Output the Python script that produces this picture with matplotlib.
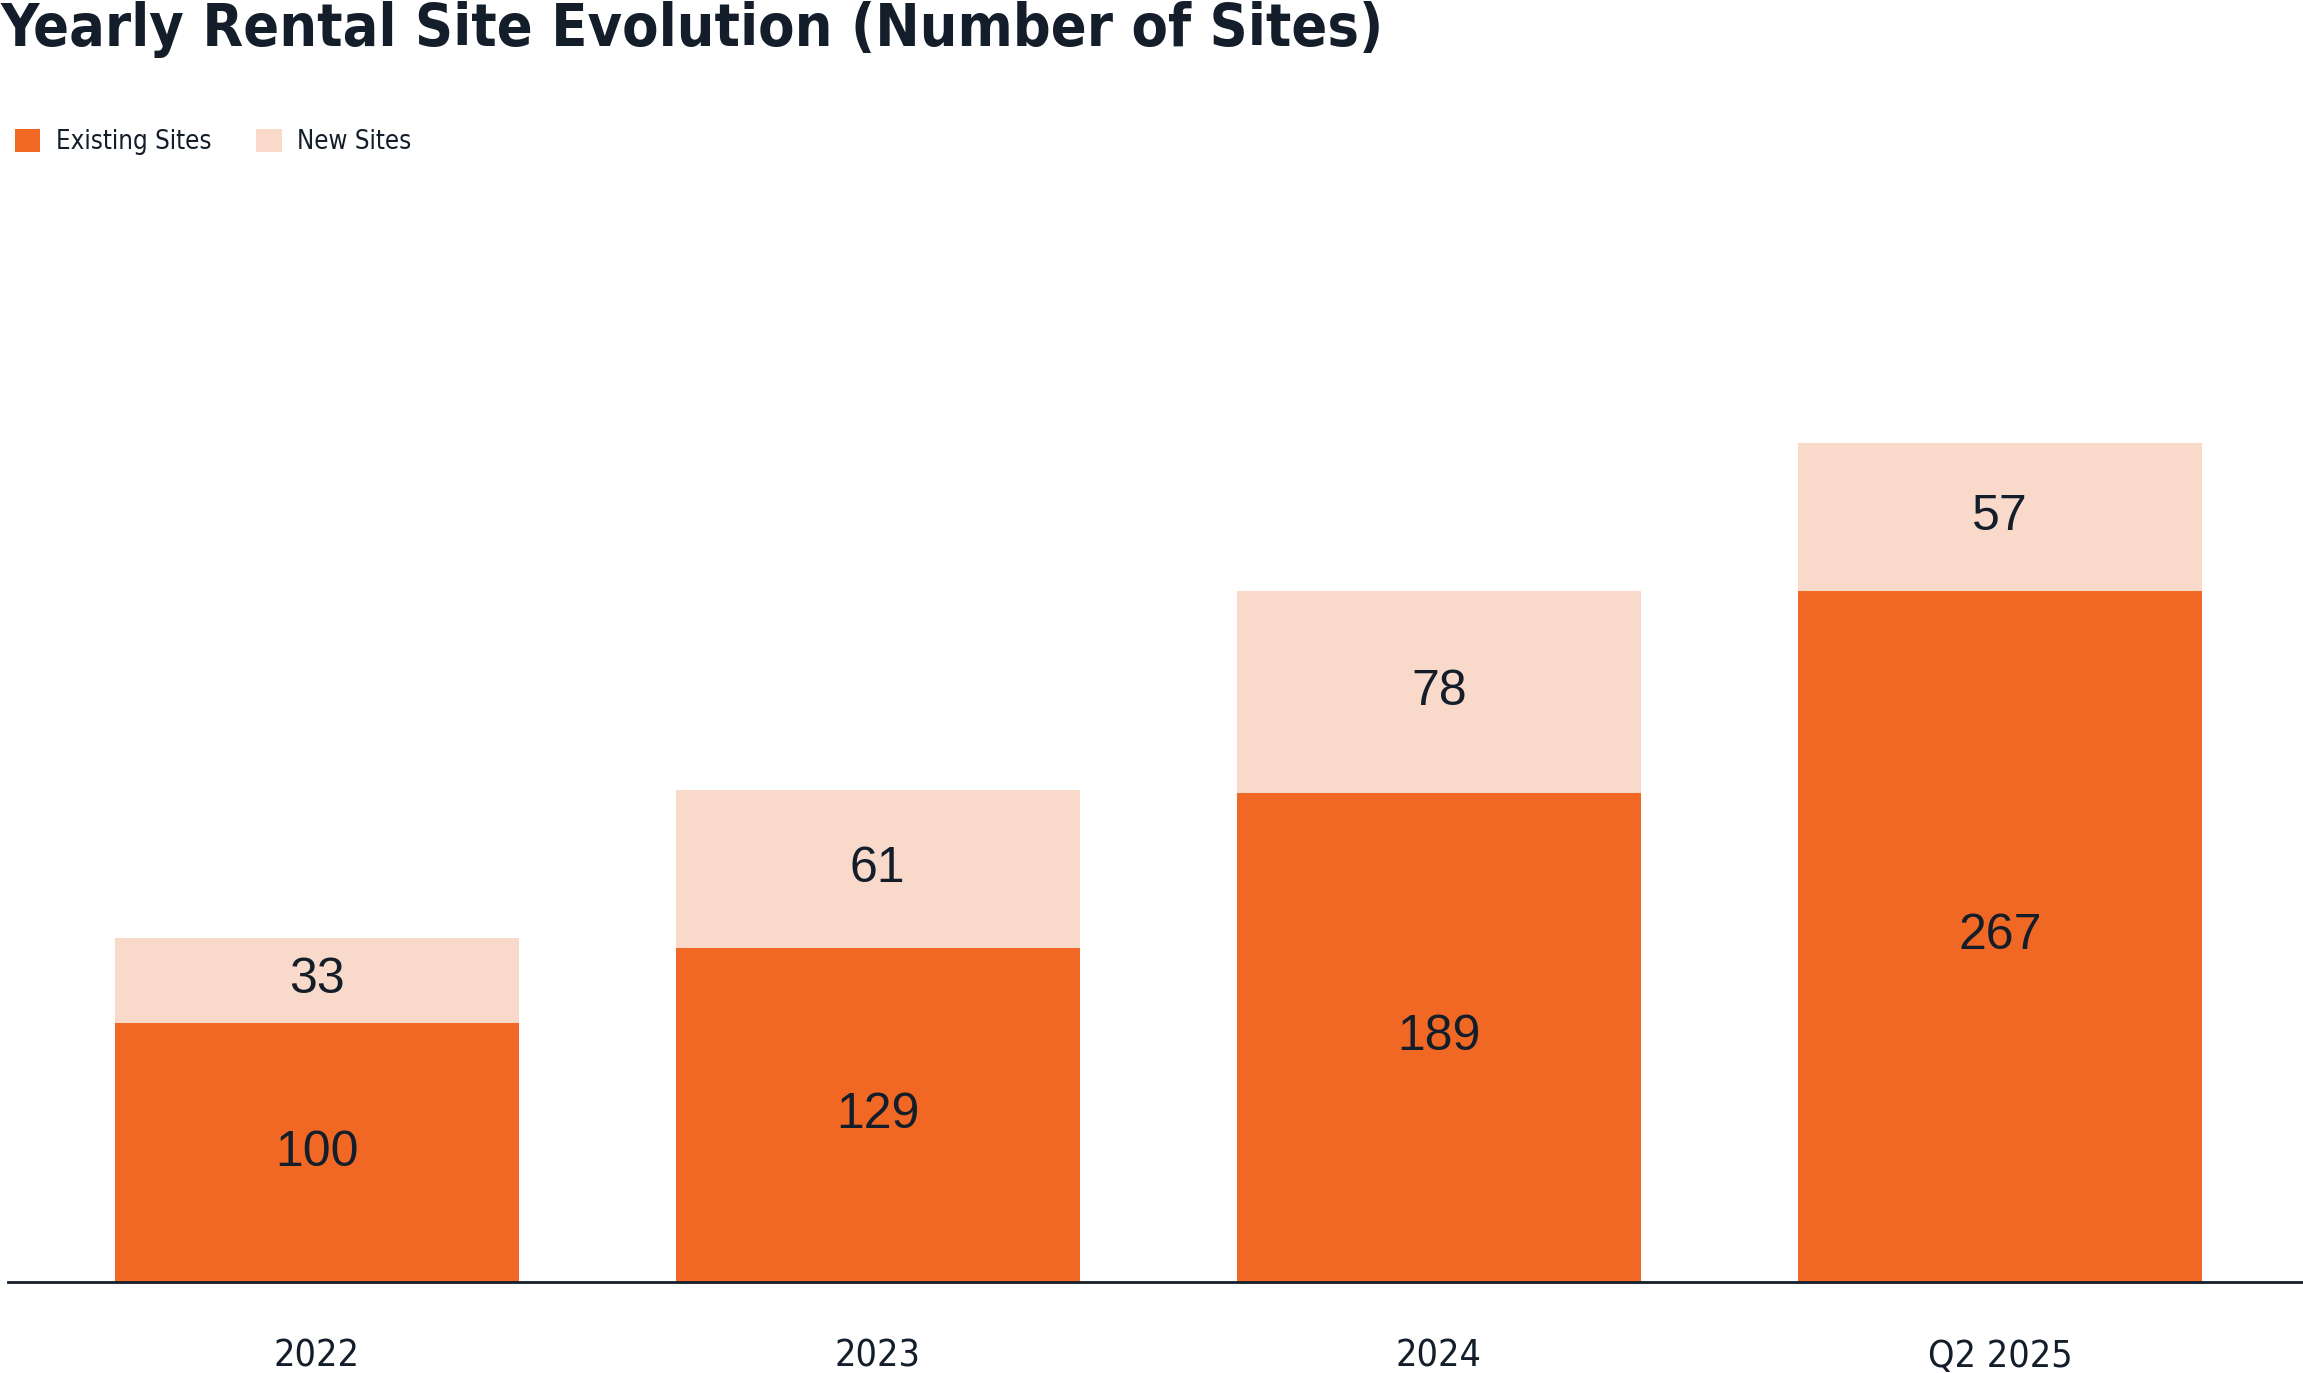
import matplotlib.pyplot as plt
import numpy as np

DPI = 100

categories = ['2022', '2023', '2024', 'Q2 2025']
existing = [100, 129, 189, 267]
new_sites = [33, 61, 78, 57]

ORANGE = '#F06824'
PEACH = '#F9D9CA'
INK = '#141E2A'
NARROW = ['DejaVu Sans', 'Liberation Sans']

fig = plt.figure(figsize=(2303/DPI, 1373/DPI), dpi=DPI)
ax = fig.add_axes([0.0035, 0.0663, 0.9965, 0.788])

x = np.arange(len(categories))
b1 = ax.bar(x, existing, width=0.72, color=ORANGE, label='Existing Sites')
b2 = ax.bar(x, new_sites, width=0.72, bottom=existing, color=PEACH, label='New Sites')

# value labels centred in each segment
for i in range(len(categories)):
    ax.text(x[i], existing[i] / 2, str(existing[i]), ha='center', va='center',
            fontsize=36, color=INK, family=['Liberation Sans', 'DejaVu Sans'])
    ax.text(x[i], existing[i] + new_sites[i] / 2, str(new_sites[i]), ha='center', va='center',
            fontsize=36, color=INK, family=['Liberation Sans', 'DejaVu Sans'])

ax.set_xlim(-0.55, 3.54)
ax.set_ylim(0, 418)
ax.set_yticks([])
ax.set_xticks(x)
ax.set_xticklabels(categories, fontsize=27, color=INK, family=NARROW, fontstretch='condensed')
ax.tick_params(axis='x', length=0, pad=41)
for s in ['top', 'right', 'left']:
    ax.spines[s].set_visible(False)
ax.spines['bottom'].set_color(INK)
ax.spines['bottom'].set_linewidth(2)

fig.text(0.0, 0.999, 'Yearly Rental Site Evolution (Number of Sites)', ha='left', va='top',
         fontsize=42.5, fontweight='bold', color=INK, family=NARROW, fontstretch='condensed')

fig.legend(handles=[b1, b2], loc='upper left', bbox_to_anchor=(0.003, 0.912), frameon=False,
           ncol=2, handlelength=1.0, handleheight=1.0, handletextpad=0.6,
           columnspacing=1.75, borderaxespad=0, borderpad=0.3,
           prop={'family': NARROW, 'size': 18.5, 'stretch': 'condensed'})
for t in fig.legends[0].get_texts():
    t.set_color(INK)

fig.savefig('out.png', dpi=DPI, facecolor='white')
